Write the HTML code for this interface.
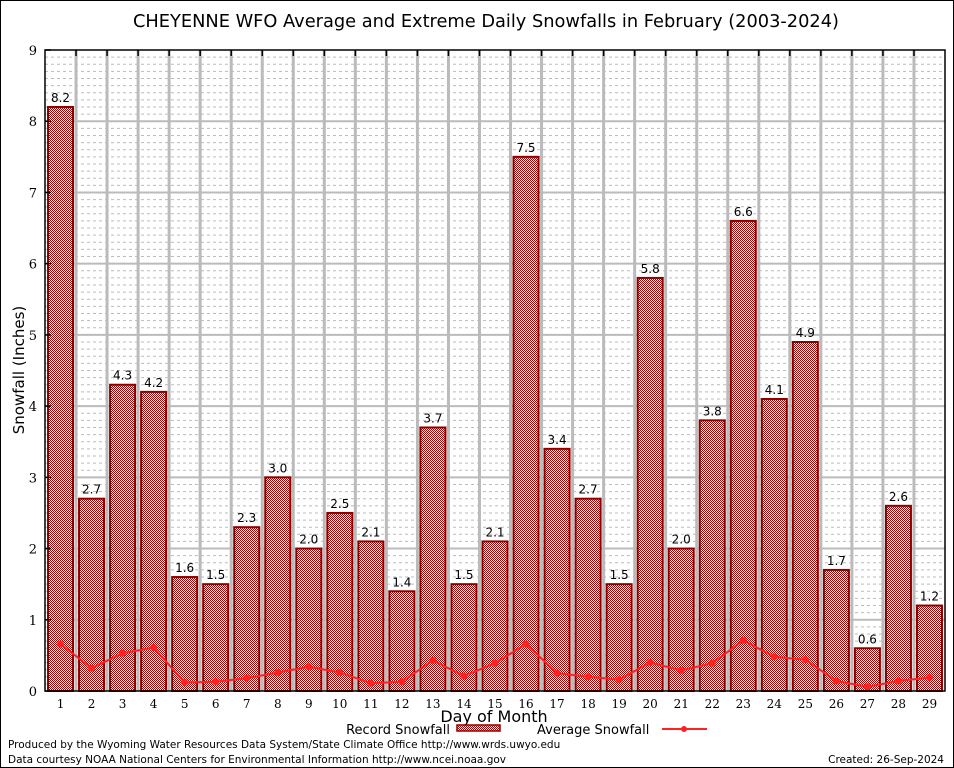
<!DOCTYPE html>
<html><head><meta charset="utf-8"><style>
body{margin:0;background:#fff}
svg{display:block;font-family:"DejaVu Sans","Liberation Sans",sans-serif}
</style></head><body>
<svg id="chart" width="954" height="768" xmlns="http://www.w3.org/2000/svg">
<defs>
<pattern id="chk" width="2" height="2" patternUnits="userSpaceOnUse">
<rect width="2" height="2" fill="#fff"/>
<rect width="1" height="1" fill="#a00000"/>
<rect x="1" y="1" width="1" height="1" fill="#a00000"/>
</pattern>
</defs>
<rect x="0.5" y="0.5" width="953" height="767" fill="#fff" stroke="#000"/>
<text x="486" y="27" font-size="17.8" text-anchor="middle">CHEYENNE WFO Average and Extreme Daily Snowfalls in February (2003-2024)</text>
<g id="grid"></g>
<g id="bars"></g>
<g id="avg"></g>
<g id="axes"></g>
<text transform="translate(24,370) rotate(-90)" font-size="15" text-anchor="middle">Snowfall (Inches)</text>
<text x="494" y="722" font-size="16" text-anchor="middle">Day of Month</text>
<g>
<text x="450" y="734" font-size="13" text-anchor="end">Record Snowfall</text>
<rect x="457" y="725" width="43" height="6" fill="url(#chk)" stroke="#8b0000" stroke-width="1.5"/>
<text x="537" y="734" font-size="13">Average Snowfall</text>
<line x1="662" y1="729" x2="707" y2="729" stroke="#ff2020" stroke-width="2"/>
<circle cx="684" cy="729" r="3" fill="#ff2020"/>
</g>
<text x="8" y="748" font-size="10.5">Produced by the Wyoming Water Resources Data System/State Climate Office http://www.wrds.uwyo.edu</text>
<text x="8" y="763" font-size="10.5">Data courtesy NOAA National Centers for Environmental Information http://www.ncei.noaa.gov</text>
<text x="944" y="763" font-size="10.5" text-anchor="end">Created: 26-Sep-2024</text>
</svg>
<script>
const days = [1,2,3,4,5,6,7,8,9,10,11,12,13,14,15,16,17,18,19,20,21,22,23,24,25,26,27,28,29];
const recordSnow = [8.2,2.7,4.3,4.2,1.6,1.5,2.3,3.0,2.0,2.5,2.1,1.4,3.7,1.5,2.1,7.5,3.4,2.7,1.5,5.8,2.0,3.8,6.6,4.1,4.9,1.7,0.6,2.6,1.2];
const avgSnow = [0.66,0.32,0.53,0.61,0.12,0.13,0.18,0.26,0.34,0.26,0.11,0.13,0.43,0.21,0.39,0.66,0.25,0.20,0.16,0.40,0.29,0.39,0.71,0.48,0.44,0.14,0.06,0.14,0.19];
const yTicks = [0,1,2,3,4,5,6,7,8,9];

const NS='http://www.w3.org/2000/svg';
const L=45,R=945,T=50,B=691,YMAX=9;
const slot=(R-L)/days.length;
const xC=i=>L+slot*(i+0.5);
const y=v=>B-(v/YMAX)*(B-T);
function mk(tag,attrs,parent){const e=document.createElementNS(NS,tag);for(const k in attrs)e.setAttribute(k,attrs[k]);parent.appendChild(e);return e;}
const grid=document.getElementById('grid'),bars=document.getElementById('bars'),avg=document.getElementById('avg'),axes=document.getElementById('axes');

for(let k=1;k<YMAX*10;k++){
  if(k%10===0)continue;
  const g=mk('line',{x1:L,x2:R,y1:y(k/10),y2:y(k/10),stroke:'#bbb','stroke-dasharray':'3,3','stroke-width':1},grid);
  
  
}
yTicks.forEach(t=>{
  if(t>0&&t<YMAX){const g=mk('line',{x1:L,x2:R,y1:y(t),y2:y(t),stroke:'#bbb','stroke-width':2},grid);
  
  }
  const tx=mk('text',{x:37,y:y(t)+5,'font-size':13,'text-anchor':'end','font-family':'"DejaVu Serif","Liberation Serif",serif'},axes);
  tx.textContent=t;
  
  
  const tk=mk('line',{x1:L,x2:L+6,y1:y(t),y2:y(t),stroke:'#000','stroke-width':1.5},axes);
  
  
});
for(let i=1;i<days.length;i++){
  const x=L+slot*i;
  const g=mk('line',{x1:x,x2:x,y1:T,y2:B,stroke:'#bbb','stroke-width':3},grid);
  
  
  const tk=mk('line',{x1:x,x2:x,y1:T,y2:T+6,stroke:'#000','stroke-width':1.5},axes);
  
  
}
days.forEach((d,i)=>{
  const v=recordSnow[i];
  const r=mk('rect',{x:xC(i)-12.5,y:y(v),width:25,height:B-y(v),fill:'url(#chk)',stroke:'#8b0000','stroke-width':2},bars);
  
  
  const lb=mk('text',{x:xC(i),y:y(v)-5,'font-size':12,'text-anchor':'middle'},bars);
  lb.textContent=v.toFixed(1);
  
  
  const xl=mk('text',{x:xC(i),y:708,'font-size':12,'text-anchor':'middle','font-family':'"DejaVu Serif","Liberation Serif",serif'},axes);
  xl.textContent=d;
  
  
});
const pl=mk('polyline',{points:avgSnow.map((v,i)=>xC(i)+','+y(v)).join(' '),fill:'none',stroke:'#ff2020','stroke-width':2},avg);


avgSnow.forEach((v,i)=>{
  const c=mk('circle',{cx:xC(i),cy:y(v),r:3.5,fill:'#ff2020'},avg);
  
  
});
const fr=mk('rect',{x:L,y:T,width:R-L,height:B-T,fill:'none',stroke:'#000','stroke-width':1.5},axes);


</script>
</body></html>
